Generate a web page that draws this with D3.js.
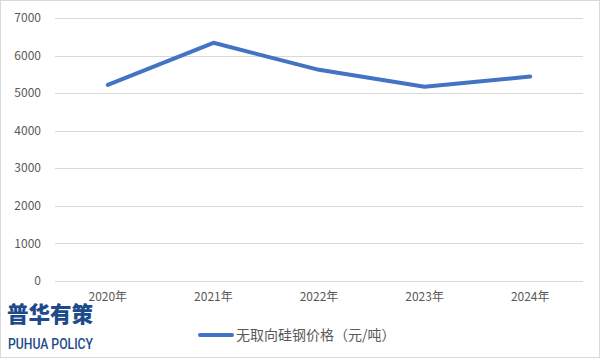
<!DOCTYPE html>
<html>
<head>
<meta charset="utf-8">
<script src="https://cdn.jsdelivr.net/npm/d3@7"></script>
<style>
  body { margin: 0; background: #fff; }
  svg { display: block; font-family: "Noto Sans CJK SC", "DejaVu Sans", sans-serif; }
</style>
</head>
<body>
<div id="chart"></div>
<script>
const years = ["2020年", "2021年", "2022年", "2023年", "2024年"];
const prices = [5220, 6340, 5620, 5170, 5440];
const yTicks = [0, 1000, 2000, 3000, 4000, 5000, 6000, 7000];
const seriesName = "无取向硅钢价格（元/吨）";

const W = 601, H = 361;
const margin = { top: 18, right: 18, bottom: 80, left: 55 };

const svg = d3.select("#chart").append("svg").attr("width", W).attr("height", H);

// outer frame
svg.append("rect")
  .attr("x", 0.5).attr("y", 0.5)
  .attr("width", W - 2).attr("height", H - 4)
  .attr("fill", "#fff").attr("stroke", "#d9d9d9");

const x = d3.scaleBand().domain(years).range([margin.left, W - margin.right]);
const y = d3.scaleLinear().domain([0, 7000]).range([H - margin.bottom, margin.top]);

// gridlines
svg.append("g").selectAll("line").data(yTicks).join("line")
  .attr("x1", margin.left).attr("x2", W - margin.right)
  .attr("y1", d => Math.round(y(d)) + 0.5).attr("y2", d => Math.round(y(d)) + 0.5)
  .attr("stroke", "#d9d9d9").attr("stroke-width", 1);

// y tick labels
svg.append("g").selectAll("text").data(yTicks).join("text")
  .attr("x", 41).attr("y", d => y(d))
  .attr("dy", "0.35em").attr("text-anchor", "end")
  .attr("font-size", 12).attr("fill", "#595959")
  .text(d => d);

// x tick labels
svg.append("g").selectAll("text").data(years).join("text")
  .attr("x", d => x(d) + x.bandwidth() / 2).attr("y", y(0) + 20)
  .attr("text-anchor", "middle")
  .attr("font-size", 12).attr("fill", "#595959")
  .text(d => d);

// line
const line = d3.line()
  .x((d, i) => x(years[i]) + x.bandwidth() / 2)
  .y(d => y(d));
svg.append("path").datum(prices)
  .attr("d", line)
  .attr("fill", "none").attr("stroke", "#4472c4")
  .attr("stroke-width", 4).attr("stroke-linecap", "round").attr("stroke-linejoin", "round");

// legend
const lg = svg.append("g").attr("transform", "translate(198,335)");
lg.append("line").attr("x1", 2).attr("x2", 34).attr("y1", 0).attr("y2", 0)
  .attr("stroke", "#4472c4").attr("stroke-width", 4).attr("stroke-linecap", "round");
lg.append("text").attr("x", 38).attr("y", 0).attr("dy", "0.35em")
  .attr("font-size", 14).attr("fill", "#595959").text(seriesName);

// watermark
svg.append("text").attr("x", 7).attr("y", 322)
  .attr("font-size", 22).attr("font-weight", 900).attr("fill", "#1d4a8a")
  .attr("textLength", 86).attr("lengthAdjust", "spacingAndGlyphs")
  .text("普华有策");
svg.append("text").attr("x", 8).attr("y", 349)
  .attr("font-family", "Roboto, 'Liberation Sans Narrow', sans-serif")
  .attr("font-size", 15).attr("font-weight", 500).attr("fill", "#1d4a8a")
  .attr("textLength", 85).attr("lengthAdjust", "spacingAndGlyphs")
  .text("PUHUA POLICY");
</script>
</body>
</html>
